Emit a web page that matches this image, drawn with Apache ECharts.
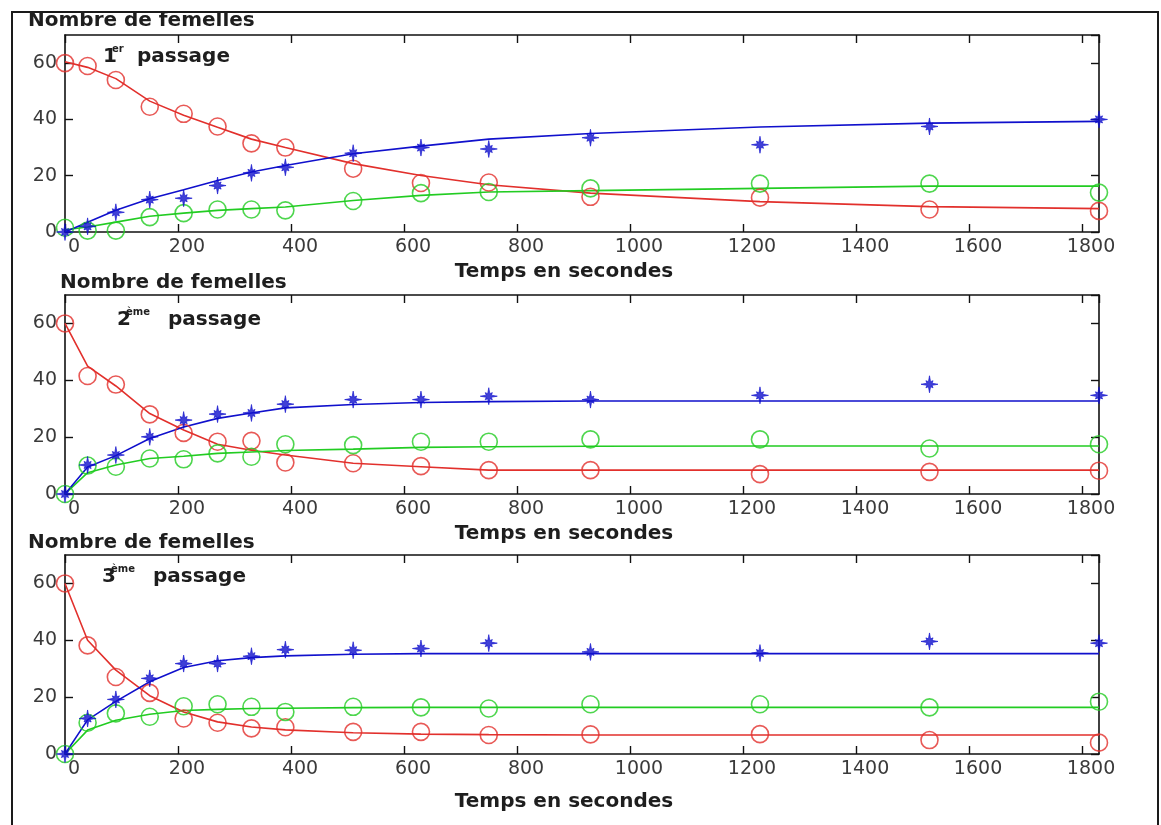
<!DOCTYPE html>
<html>
<head>
<meta charset="utf-8">
<script src="https://cdn.jsdelivr.net/npm/echarts@6/dist/echarts.min.js"></script>
<style>
html,body{margin:0;padding:0;background:#fff;}
#chart{width:1161px;height:825px;}
</style>
</head>
<body>
<div id="chart"></div>
<script>
// Time points (seconds)
var times = [0, 40, 90, 150, 210, 270, 330, 390, 510, 630, 750, 930, 1230, 1530, 1830];
var xTicks = [0, 200, 400, 600, 800, 1000, 1200, 1400, 1600, 1800];
var yTicks = [0, 20, 40, 60];

// Panel 1 : 1er passage
var p1Red   = [60, 59, 54, 44.5, 42, 37.5, 31.5, 30, 22.5, 17.4, 17.6, 12.5, 12.2, 8, 7.5];
var p1Green = [1.5, 0.5, 0.5, 5.3, 6.7, 8, 8, 7.7, 11, 13.8, 14.2, 15.5, 17.2, 17.2, 14];
var p1Blue  = [0, 2, 7, 11.5, 12, 16.5, 21, 23, 28, 30, 29.5, 33.5, 31, 37.5, 40];
var p1RedFit   = [60.5, 58.5, 54.5, 46.5, 41.5, 37.2, 33, 30, 24.3, 20.1, 16.8, 13.8, 10.8, 9, 8.3];
var p1GreenFit = [0.8, 1.8, 3.5, 5.6, 6.7, 7.7, 8.3, 8.9, 11.2, 13, 14.2, 14.7, 15.5, 16.3, 16.3];
var p1BlueFit  = [0, 3.5, 7.7, 11.8, 15, 18.3, 21.3, 23.6, 27.8, 30.5, 33, 35, 37.3, 38.7, 39.3];

// Panel 2 : 2eme passage
var p2Red   = [60, 41.5, 38.5, 28, 21.5, 18.4, 18.7, 11.1, 10.8, 9.8, 8.4, 8.4, 7, 7.8, 8.2];
var p2Green = [0, 10, 9.6, 12.5, 12.2, 14.3, 13.1, 17.5, 17.2, 18.4, 18.4, 19.2, 19.2, 16, 17.5];
var p2Blue  = [0, 10.2, 13.7, 20.1, 26, 28.1, 28.5, 31.6, 33.2, 33.2, 34.4, 33.2, 34.7, 38.6, 34.7];
var p2RedFit   = [60, 45, 38, 28.3, 22.5, 17.5, 15.4, 13.7, 10.8, 9.6, 8.4, 8.4, 8.4, 8.4, 8.4];
var p2GreenFit = [0, 7.5, 10.2, 12.5, 13.3, 14.3, 14.8, 15.3, 15.8, 16.4, 16.6, 16.8, 16.9, 16.9, 16.9];
var p2BlueFit  = [0, 9.5, 13.5, 19.5, 23.6, 26.6, 28.5, 30.3, 31.5, 32.2, 32.5, 32.7, 32.7, 32.7, 32.7];

// Panel 3 : 3eme passage
var p3Red   = [60, 38.2, 27.1, 21.5, 12.5, 11, 9, 9.4, 7.8, 7.8, 6.7, 6.9, 7, 4.9, 4];
var p3Green = [0, 11, 14.3, 13.1, 16.8, 17.5, 16.6, 14.8, 16.6, 16.4, 16, 17.5, 17.5, 16.4, 18.4];
var p3Blue  = [0, 12.5, 19.2, 26.6, 31.8, 31.8, 34.4, 36.7, 36.5, 37.1, 39, 35.9, 35.5, 39.6, 39];
var p3RedFit   = [60, 40, 29.5, 20.5, 14.8, 11.3, 9.5, 8.5, 7.5, 7, 6.8, 6.7, 6.7, 6.7, 6.7];
var p3GreenFit = [0, 8.4, 11.9, 14, 15.3, 15.7, 16, 16.1, 16.3, 16.4, 16.4, 16.4, 16.4, 16.4, 16.4];
var p3BlueFit  = [0, 12, 18.5, 25.4, 30.4, 32.8, 33.9, 34.5, 35.1, 35.3, 35.3, 35.3, 35.3, 35.3, 35.3];

var yTitle = 'Nombre de femelles';
var xTitle = 'Temps en secondes';
var passageNums = ['1', '2', '3'];
var passageSups = ['er', 'ème', 'ème'];
var passageWord = 'passage';

var RED = '#e2302c', GREEN = '#22cc22', BLUE = '#1010cc';
var STAR = 'path://M10,0L3,1.25L4.2,4.2L1.25,3L0,10L-1.25,3L-4.2,4.2L-3,1.25L-10,0L-3,-1.25L-4.2,-4.2L-1.25,-3L0,-10L1.25,-3L4.2,-4.2L3,-1.25Z';

var panels = [
  {top: 35,  height: 197, red: p1Red, green: p1Green, blue: p1Blue, redFit: p1RedFit, greenFit: p1GreenFit, blueFit: p1BlueFit},
  {top: 295, height: 199, red: p2Red, green: p2Green, blue: p2Blue, redFit: p2RedFit, greenFit: p2GreenFit, blueFit: p2BlueFit},
  {top: 555, height: 199, red: p3Red, green: p3Green, blue: p3Blue, redFit: p3RedFit, greenFit: p3GreenFit, blueFit: p3BlueFit}
];

function pairs(vals){ return times.map(function(t,i){ return [t, vals[i]]; }); }

var grids = [], xAxes = [], yAxes = [], series = [];
var axisLine = {show: true, onZero: false, lineStyle: {color: '#111', width: 1.6}};
var tickStyle = {show: true, inside: true, length: 8, lineStyle: {color: '#111', width: 1.4}};

panels.forEach(function(p, k){
  grids.push({left: 65, top: p.top, width: 1034, height: p.height, containLabel: false});
  // bottom x axis
  xAxes.push({
    type: 'value', gridIndex: k, position: 'bottom', min: 0, max: 1830, interval: 200,
    axisLine: axisLine, axisTick: tickStyle, splitLine: {show: false},
    axisLabel: {
      show: true, margin: 6, color: '#3a3a3a', fontFamily: 'DejaVu Sans', fontSize: 19,
      padding: [0, 0, 0, 18], showMaxLabel: false,
      formatter: function(v){ return xTicks.indexOf(v) >= 0 ? String(v) : ''; }
    }
  });
  // top x axis (ticks only)
  xAxes.push({
    type: 'value', gridIndex: k, position: 'top', min: 0, max: 1830, interval: 200,
    axisLine: axisLine, axisTick: tickStyle, splitLine: {show: false}, axisLabel: {show: false}
  });
  // left y axis
  yAxes.push({
    type: 'value', gridIndex: k, position: 'left', min: 0, max: 70, interval: 20,
    axisLine: axisLine, axisTick: tickStyle, splitLine: {show: false},
    axisLabel: {
      show: true, margin: 8, color: '#3a3a3a', fontFamily: 'DejaVu Sans', fontSize: 19, showMaxLabel: false,
      formatter: function(v){ return yTicks.indexOf(v) >= 0 ? String(v) : ''; }
    }
  });
  // right y axis (ticks only)
  yAxes.push({
    type: 'value', gridIndex: k, position: 'right', min: 0, max: 70, interval: 20,
    axisLine: axisLine, axisTick: tickStyle, splitLine: {show: false}, axisLabel: {show: false}
  });
  var xi = 2*k, yi = 2*k;
  function fitLine(vals, color){
    return {type: 'line', xAxisIndex: xi, yAxisIndex: yi, data: pairs(vals), showSymbol: false,
      symbol: 'none', lineStyle: {color: color, width: 1.6}, silent: true, z: 3, animation: false};
  }
  function circles(vals, color){
    return {type: 'scatter', xAxisIndex: xi, yAxisIndex: yi, data: pairs(vals), symbol: 'circle',
      symbolSize: 17, clip: false, itemStyle: {color: 'rgba(0,0,0,0)', borderColor: color, borderWidth: 1.6},
      z: 4, animation: false};
  }
  series.push(fitLine(p.redFit, RED));
  series.push(fitLine(p.greenFit, GREEN));
  series.push(fitLine(p.blueFit, BLUE));
  series.push(circles(p.red, RED));
  series.push(circles(p.green, GREEN));
  series.push({type: 'scatter', xAxisIndex: xi, yAxisIndex: yi, data: pairs(p.blue), symbol: STAR,
    symbolSize: 17, clip: false, itemStyle: {color: BLUE, borderColor: BLUE, borderWidth: 0.8}, z: 5, animation: false});
});

function txt(x, y, s, size, weight, align){
  return {type: 'text', x: x, y: y, z: 100, style: {
    text: s, fontFamily: 'DejaVu Sans', fontSize: size, fontWeight: weight, fill: '#1e1e1e',
    textAlign: align || 'left', align: align || 'left', textVerticalAlign: 'middle', verticalAlign: 'middle'}};
}

var titleX = [28, 60, 28], titleY = [21, 283, 543];
var xlabelY = [272, 534, 802];
var numX = [103, 117, 102], numY = [57, 320, 577];
var supX = [112, 126, 111];
var wordX = [137, 168, 153];

var graphics = [{type: 'rect', z: 0, shape: {x: 12, y: 12, width: 1146, height: 860},
  style: {fill: 'none', stroke: '#1a1a1a', lineWidth: 2}}];
for (var k = 0; k < 3; k++){
  graphics.push(txt(titleX[k], titleY[k], yTitle, 20, 'bold', 'left'));
  graphics.push(txt(564, xlabelY[k], xTitle, 20, 'bold', 'center'));
  graphics.push(txt(numX[k], numY[k], passageNums[k], 20, 'bold', 'left'));
  graphics.push(txt(supX[k], numY[k] - 8, passageSups[k], 10, 'bold', 'left'));
  graphics.push(txt(wordX[k], numY[k], passageWord, 20, 'bold', 'left'));
}

var chart = echarts.init(document.getElementById('chart'), null, {renderer: 'canvas'});
chart.setOption({
  animation: false,
  backgroundColor: '#ffffff',
  grid: grids,
  xAxis: xAxes,
  yAxis: yAxes,
  series: series,
  graphic: graphics
});
</script>
</body>
</html>
